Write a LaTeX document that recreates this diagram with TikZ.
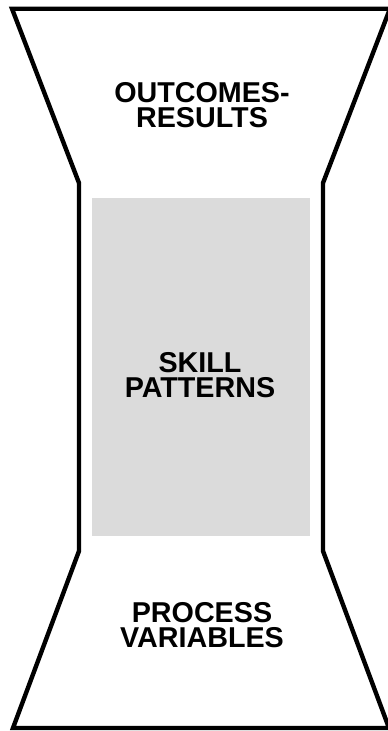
\documentclass[tikz,border=0pt]{standalone}
\usepackage{fontspec}
\setmainfont{Liberation Sans}
\begin{document}
\begin{tikzpicture}[x=1pt,y=-1pt,
  outline/.style={draw=black,line width=4.4pt,line join=miter},
  grayblock/.style={fill=black!14,draw=none},
  label/.style={align=center,inner sep=0pt,font=\bfseries\fontsize{28.7}{25}\selectfont}]
\useasboundingbox (0,0) rectangle (388,731);
\clip (0,0) rectangle (388,731);
\fill[grayblock] (92,198) rectangle (310,536);
\coordinate (tl) at (12,8.7);
\coordinate (tr) at (390,8.7);
\coordinate (ml1) at (79,183);
\coordinate (mr1) at (323,183);
\coordinate (ml2) at (79,551);
\coordinate (mr2) at (323,551);
\coordinate (bl) at (13,728);
\coordinate (br) at (389,728);
\draw[outline] (tl) -- (tr) -- (mr1) -- (mr2) -- (br) -- (bl) -- (ml2) -- (ml1) -- cycle;
\node[label] (top) at (202,105) {OUTCOMES-\\RESULTS};
\node[label] (mid) at (200,375) {SKILL\\PATTERNS};
\node[label] (bot) at (202,625) {PROCESS\\VARIABLES};
\end{tikzpicture}
\end{document}
